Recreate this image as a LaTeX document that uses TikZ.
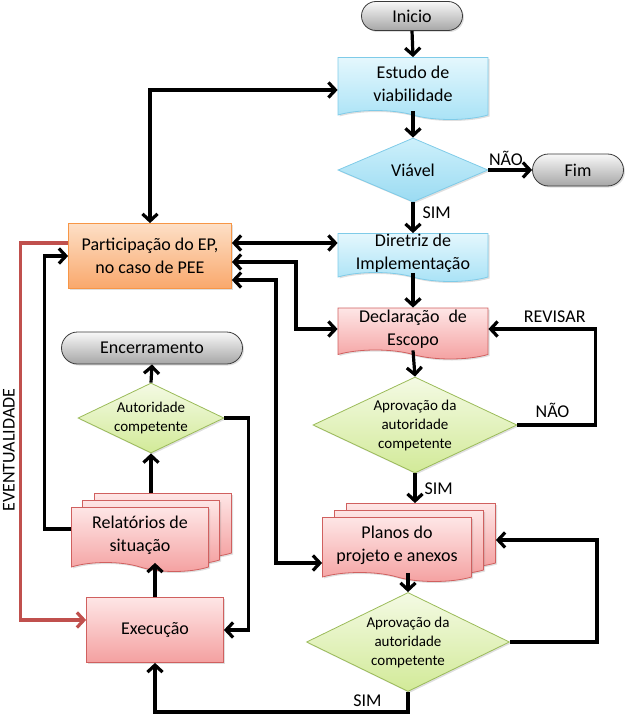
\documentclass[tikz,border=0pt]{standalone}
\usepackage{fontspec}
\setmainfont{Carlito}
\usetikzlibrary{shapes.geometric,shapes.misc,shapes.symbols,arrows.meta,shadows}

\definecolor{termtop}{HTML}{F8F8F8}
\definecolor{termbot}{HTML}{A6A6A6}
\definecolor{termline}{HTML}{3A3A3A}
\definecolor{bluetop}{HTML}{E4F7FD}
\definecolor{bluebot}{HTML}{A8E2F6}
\definecolor{blueline}{HTML}{7FCBE8}
\definecolor{condtop}{HTML}{CDF0FB}
\definecolor{condbot}{HTML}{9BDBF2}
\definecolor{pinktop}{HTML}{FEE6E6}
\definecolor{pinkbot}{HTML}{F4A0A0}
\definecolor{pinkline}{HTML}{D0605F}
\definecolor{greentop}{HTML}{F4FAE4}
\definecolor{greenbot}{HTML}{D2EA98}
\definecolor{greenline}{HTML}{9BBB59}
\definecolor{orangetop}{HTML}{FDDFC6}
\definecolor{orangebot}{HTML}{F9A86C}
\definecolor{orangeline}{HTML}{F79646}
\definecolor{redline}{HTML}{C0504D}

\begin{document}
\begin{tikzpicture}[x=1pt, y=-1pt, line width=3.2pt,
      >={Straight Barb[length=7pt,width=15pt]},
      every node/.append style={font=\fontsize{18}{23}\selectfont, align=center, inner sep=0pt},
      shade/.style={drop shadow={opacity=0.25,shadow xshift=1.5pt,shadow yshift=-1.5pt}}]
    \tikzstyle{term} = [rounded rectangle, draw=termline, line width=0.8pt, top color=termtop, bottom color=termbot, shade]
    \tikzstyle{doc} = [tape, tape bend top=none, tape bend bottom=out and in, tape bend height=9pt, line width=0.8pt, shade]
    \tikzstyle{bluedoc} = [doc, draw=blueline, top color=bluetop, bottom color=bluebot, minimum width=150pt]
    \tikzstyle{reddoc} = [doc, draw=pinkline, top color=pinktop, bottom color=pinkbot]
    \tikzstyle{cond} = [diamond, line width=0.8pt, font=\fontsize{15}{19}\selectfont, shade]
    \tikzstyle{tag} = [font=\fontsize{18}{21}\selectfont]
    \useasboundingbox (0,0) rectangle (626,717);

    % main column
    \node[term, minimum width=101pt, minimum height=29pt] (inicio) at (412,16) {Inicio};
    \node[bluedoc, minimum height=62pt] (estudo) at (413,84) {Estudo de\\viabilidade};
    \node[cond, draw=blueline, top color=condtop, bottom color=condbot, font=\fontsize{18}{21}\selectfont,
          aspect=2.3, minimum width=150pt, minimum height=64pt] (viavel) at (413,170) {Viável};
    \node[term, minimum width=91pt, minimum height=32pt] (fim) at (578,170) {Fim};
    \node[bluedoc, minimum height=48pt] (diretriz) at (413,253) {Diretriz de\\Implementação};
    \node[reddoc, minimum width=150pt, minimum height=51pt] (declaracao) at (413,329) {Declaração\enspace de\\Escopo};
    \node[cond, draw=greenline, top color=greentop, bottom color=greenbot,
          aspect=2.1, minimum width=204pt, minimum height=96pt] (apr1) at (415,425) {Aprovação da\\autoridade\\competente};
    \node[reddoc, minimum width=149pt, minimum height=64pt] (planosC) at (421,531) {};
    \node[reddoc, minimum width=149pt, minimum height=64pt] (planosB) at (409,538) {};
    \node[reddoc, minimum width=149pt, minimum height=64pt] (planos) at (397,545) {Planos do\\projeto e anexos};
    \node[cond, draw=greenline, top color=greentop, bottom color=greenbot,
          aspect=2.1, minimum width=203pt, minimum height=99pt] (apr2) at (408,642) {Aprovação da\\autoridade\\competente};

    % left column
    \node[rectangle, draw=orangeline, line width=0.8pt, top color=orangetop, bottom color=orangebot, shade,
          minimum width=163pt, minimum height=65pt] (participacao) at (150,256) {Participação do EP,\\no caso de PEE};
    \node[term, minimum width=181pt, minimum height=32pt] (encerramento) at (152,348) {Encerramento};
    \node[cond, draw=greenline, top color=greentop, bottom color=greenbot,
          aspect=2.1, minimum width=146pt, minimum height=70pt] (autoridade) at (151,418) {Autoridade\\competente};
    \node[reddoc, minimum width=137pt, minimum height=64pt] (relatoriosC) at (163,521) {};
    \node[reddoc, minimum width=137pt, minimum height=64pt] (relatoriosB) at (151,528) {};
    \node[reddoc, minimum width=137pt, minimum height=64pt] (relatorios) at (140,535) {Relatórios de\\situação};
    \node[rectangle, draw=pinkline, line width=0.8pt, top color=pinktop, bottom color=pinkbot, shade,
          minimum width=137pt, minimum height=65pt] (execucao) at (155,630) {Execução};
    \node[tag, rotate=90] (eventualidade) at (9,450) {EVENTUALIDADE};

    % connectors
    \draw[->] (inicio.south) -- (estudo.north);
    \draw[->] (estudo.south) -- (viavel.north);
    \draw[->] (viavel.east) -- node[tag, above=3pt, pos=0.4] (nao1) {NÃO} (fim.west);
    \draw[->] (viavel.south) -- node[tag, right=8pt, pos=0.35] (sim1) {SIM} (diretriz.north);
    \draw[->] (diretriz.south) -- (declaracao.north);
    \draw[->] (declaracao.south) -- (apr1.north);
    \draw[->] (apr1.east) -- node[tag, above=6pt, pos=0.45] (nao2) {NÃO} ++(78,0)
          |- node[tag, above=5pt, pos=0.69] (revisar) {REVISAR} (declaracao.east);
    \draw[->] (apr1.south) -- node[tag, right=8pt, pos=0.5] (sim2) {SIM} (apr1.south |- planosC.north);
    \draw[->] (planos.south -| apr2.north) -- (apr2.north);
    \draw[->] (apr2.east) -- ++(87,0) |- ([yshift=-9pt]planosC.east);
    \draw[->] (apr2.south) -- ++(0,20) -| node[tag, above=4pt, pos=0.08] (sim3) {SIM} (execucao.south);
    \draw[->] (execucao.north) -- (execucao.north |- relatorios.south);
    \draw[->] (autoridade.south |- relatoriosC.north) -- (autoridade.south);
    \draw[->] (autoridade.north) -- (encerramento.south);
    \draw[->] (autoridade.east) -- ++(24,0) |- (execucao.east);
    \draw[->] ([yshift=6pt]relatorios.west) -- ++(-27,0) |- (participacao.west);
    \draw[->, draw=redline] ([yshift=13pt]participacao.west) -- ++(-48,0) |- ([yshift=10pt]execucao.west);
    \draw[<->] ([yshift=-6pt]estudo.west) -| (participacao.north);
    \draw[<->] ([yshift=13pt]participacao.east) -- ([yshift=10pt]diretriz.west);
    \draw[<->] ([yshift=-6pt]participacao.east) -- ++(64,0) |- (declaracao.west);
    \draw[<->] ([yshift=-24pt]participacao.east) -- ++(44,0) |- ([yshift=-18pt]planos.west);
\end{tikzpicture}
\end{document}
